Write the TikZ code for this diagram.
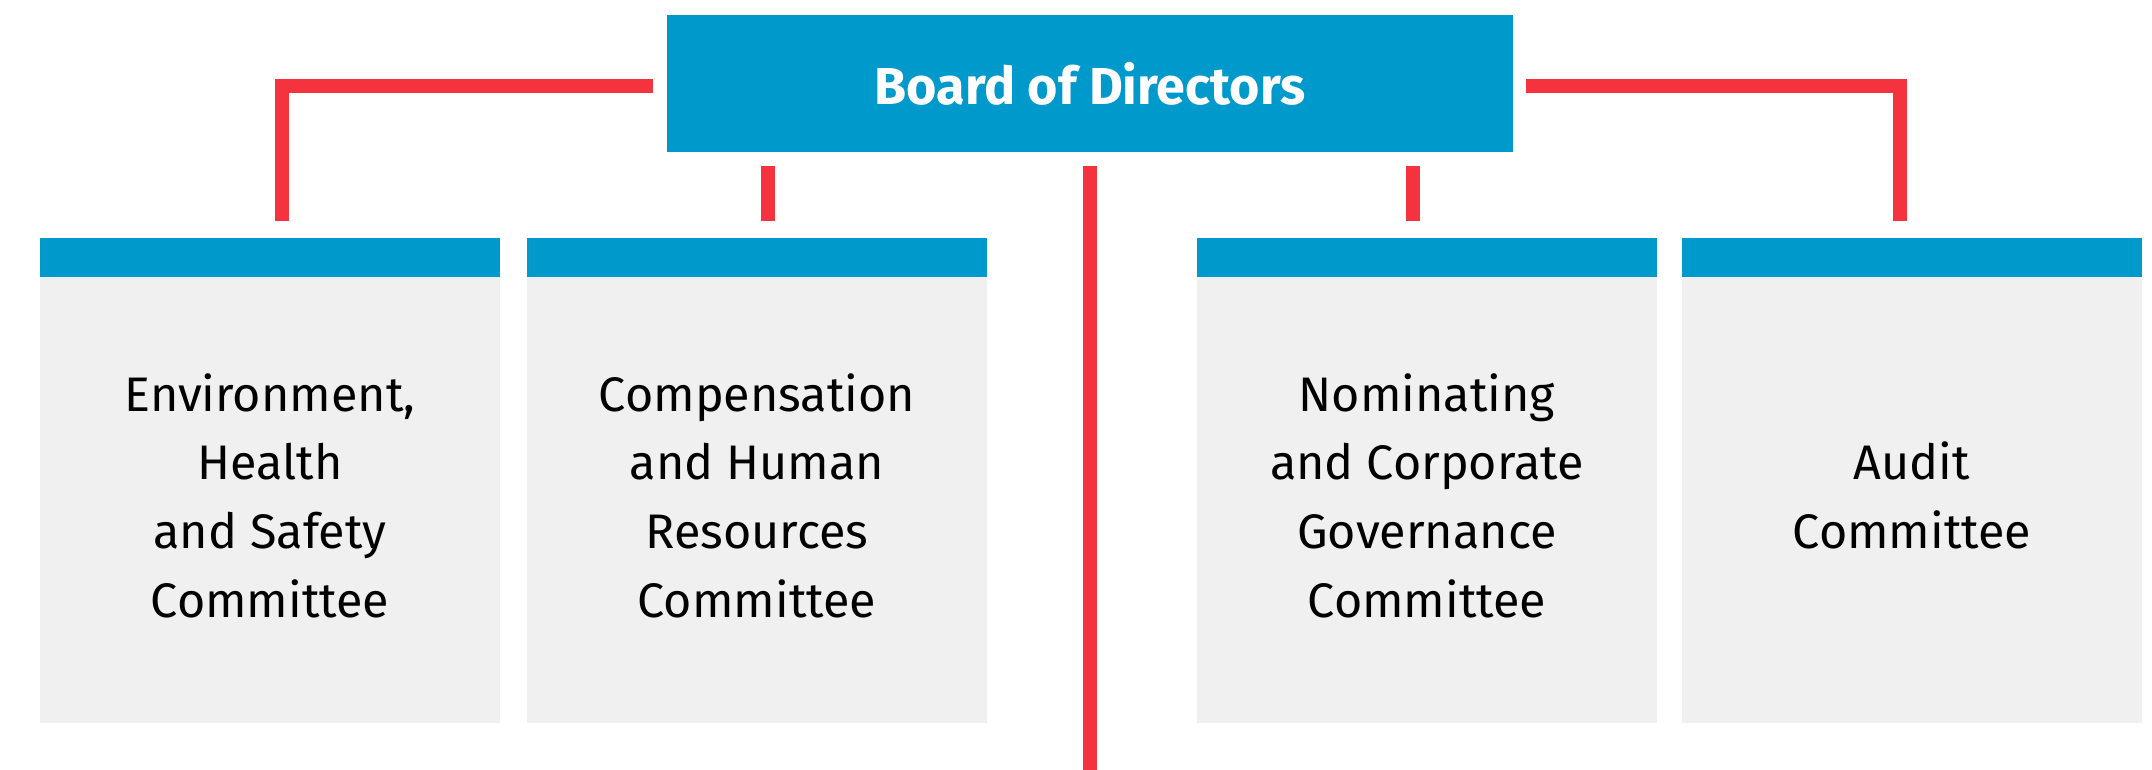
\documentclass[tikz,border=0pt]{standalone}
\usepackage{fontspec}
\setmainfont{Fira Sans}
\definecolor{boardblue}{HTML}{0099CC}
\definecolor{linered}{HTML}{F5333F}
\definecolor{bodygray}{HTML}{F0F0F0}
\begin{document}
\begin{tikzpicture}[x=1pt,y=-1pt,
  boardbox/.style={fill=boardblue,minimum width=846pt,minimum height=137pt,inner sep=0pt,text=white,font=\fontsize{52}{60}\selectfont\bfseries},
  combox/.style={fill=bodygray,minimum width=460pt,minimum height=485pt,inner sep=0pt},
  comtext/.style={align=center,inner sep=0pt,font=\fontsize{48.5}{68.6}\selectfont,text=black},
  conn/.style={draw=linered,line width=13.5pt}]
\useasboundingbox (0,0) rectangle (2152,770);
\node[boardbox] (board) at (1090,83.5) {Board of Directors};
\foreach \n/\x in {c1/270,c2/757,c3/1427,c4/1912}{
  \node[combox] (\n) at (\x,480.5) {};
  \fill[boardblue] (\n.north west) rectangle ([yshift=-39pt]\n.north east);
}
\node[comtext] (t1) at ([yshift=-15pt]c1.center) {Environment,\\Health\\and Safety\\Committee};
\node[comtext] (t2) at ([yshift=-15pt]c2.center) {Compensation\\and Human\\Resources\\Committee};
\node[comtext] (t3) at ([yshift=-15pt]c3.center) {Nominating\\and Corporate\\Governance\\Committee};
\node[comtext] (t4) at ([yshift=-15pt]c4.center) {Audit\\Committee};
\coordinate (bs) at ([yshift=-14pt]board.south);
\coordinate (bottom) at (1090,770);
\draw[conn] ([xshift=-14pt,yshift=-2.5pt]board.west) -| ([xshift=12pt,yshift=17pt]c1.north);
\draw[conn] ([xshift=13pt,yshift=-2.5pt]board.east) -| ([xshift=-12pt,yshift=17pt]c4.north);
\draw[conn] ([xshift=11pt]c2.north |- bs) -- ([xshift=11pt,yshift=17pt]c2.north);
\draw[conn] ([xshift=-14pt]c3.north |- bs) -- ([xshift=-14pt,yshift=17pt]c3.north);
\draw[conn] (bs) -- (bottom);
\end{tikzpicture}
\end{document}
